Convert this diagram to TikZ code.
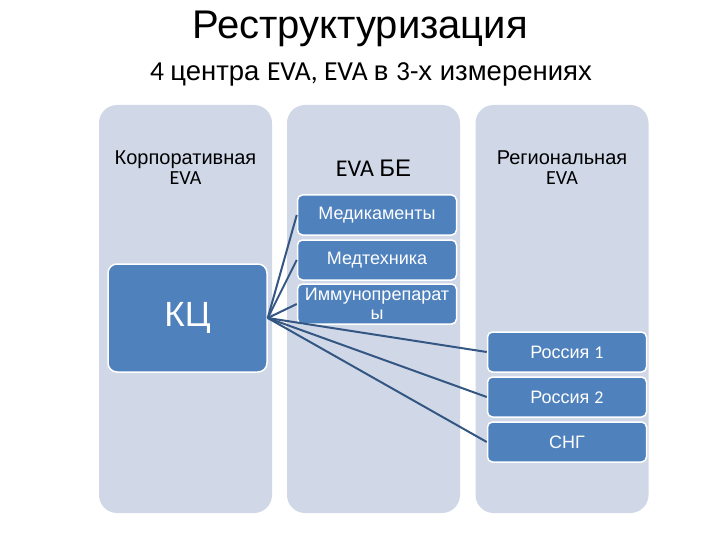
\documentclass[tikz,border=0pt]{standalone}
\usepackage{fontspec}
\setmainfont{Liberation Sans}
\newfontfamily\calib{Carlito}
\usepackage{tikz}
\usetikzlibrary{positioning}
\definecolor{col_fill}{RGB}{208,216,232}
\definecolor{box_blue}{RGB}{79,129,189}
\definecolor{link_blue}{RGB}{52,86,130}
\newcommand{\lat}[1]{{\calib #1}}

\begin{document}
\begin{tikzpicture}[x=1pt, y=-1pt,
      column/.style={fill=col_fill, draw=none, rounded corners=18pt,
                     minimum width=173pt, minimum height=408pt, inner sep=0pt},
      head/.style={align=center, text=black, font=\fontsize{20}{20}\selectfont},
      unit/.style={fill=box_blue, draw=white, line width=1.5pt, rounded corners=5pt,
                   minimum width=159pt, minimum height=40pt, inner sep=1pt,
                   align=center, text=white, font=\fontsize{18}{17}\selectfont},
      link/.style={draw=link_blue, line width=2pt}]
    \useasboundingbox (0,0) rectangle (720,540);
    \node[font=\fontsize{40}{40}\selectfont] (title) at (360,29) {Реструктуризация};
    \node[font=\fontsize{27.5}{27.5}\selectfont] (subtitle) at (371,74)
      {\lat{4 }центра \lat{EVA, EVA }в \lat{3-}х измерениях};
    \node[column] (C1) at (185.5,309) {};
    \node[column] (C2) at (373.5,309) {};
    \node[column] (C3) at (562,309) {};
    \node[head] (H1) at (185.5,168) {Корпоративная\\\lat{EVA}};
    \node[head, font=\fontsize{24}{24}\selectfont] (H2) at (373.5,168) {\lat{EVA }БЕ};
    \node[head] (H3) at (562,168) {Региональная\\\lat{EVA}};
    \node[unit, minimum width=159pt, minimum height=108pt, rounded corners=9pt,
          font=\fontsize{35}{35}\selectfont] (KC) at (187.5,318) {КЦ};
    \node[unit] (U1) at (377,215) {Медикаменты};
    \node[unit] (U2) at (377,260) {Медтехника};
    \node[unit, font=\fontsize{18}{19}\selectfont] (U3) at (377,304) {Иммунопрепарат\\ы};
    \node[unit] (R1) at (567,352) {Россия \lat{1}};
    \node[unit] (R2) at (567,397) {Россия \lat{2}};
    \node[unit] (R3) at (567,442) {СНГ};
    \foreach \t in {U1,U2,U3,R1,R2,R3}
      \draw[link] (KC.east) -- (\t.west);
  \end{tikzpicture}
\end{document}
